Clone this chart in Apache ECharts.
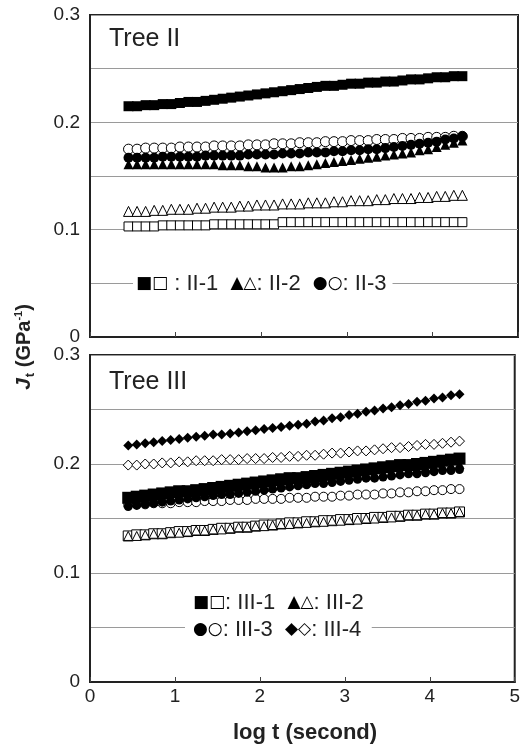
<!DOCTYPE html>
<html>
<head>
<meta charset="utf-8">
<script src="https://cdn.jsdelivr.net/npm/echarts@6/dist/echarts.min.js"></script>
<style>html,body{margin:0;padding:0;background:#fff}#c{width:523px;height:748px}</style>
</head>
<body>
<div id="c"></div>
<script>
// log t (second) sampling points
const logT = [0.45,0.55,0.65,0.75,0.85,0.95,1.05,1.15,1.25,1.35,1.45,1.55,1.65,1.75,1.85,1.95,2.05,2.15,2.25,2.35,2.45,2.55,2.65,2.75,2.85,2.95,3.05,3.15,3.25,3.35,3.45,3.55,3.65,3.75,3.85,3.95,4.05,4.15,4.25,4.35];
const xTicks = [0,1,2,3,4,5];
const yTicks = [0,0.1,0.2,0.3];

// Tree II
const II1_filled = [.215,.215,.216,.216,.217,.217,.218,.219,.219,.220,.221,.222,.223,.224,.225,.226,.227,.228,.229,.230,.231,.232,.233,.234,.234,.235,.236,.236,.237,.237,.238,.238,.239,.240,.240,.241,.242,.242,.243,.243];
const II1_open   = [.103,.103,.103,.103,.104,.104,.104,.104,.104,.104,.105,.105,.105,.105,.105,.105,.105,.105,.107,.107,.107,.107,.107,.107,.107,.107,.107,.107,.107,.107,.107,.107,.107,.107,.107,.107,.107,.107,.107,.107];
const II2_filled = [.161,.161,.161,.161,.161,.161,.161,.161,.161,.161,.161,.160,.160,.160,.159,.159,.158,.158,.158,.159,.159,.160,.161,.162,.163,.164,.165,.166,.167,.168,.169,.170,.171,.172,.174,.175,.177,.179,.181,.183];
const II2_open   = [.117,.117,.117,.118,.118,.119,.119,.119,.120,.120,.121,.121,.121,.122,.122,.123,.123,.123,.124,.124,.124,.125,.125,.125,.126,.126,.127,.127,.127,.128,.128,.129,.129,.129,.130,.130,.131,.131,.132,.132];
const II3_filled = [.167,.167,.167,.167,.168,.168,.168,.168,.168,.169,.169,.169,.169,.169,.170,.170,.170,.170,.171,.171,.171,.172,.172,.172,.173,.173,.174,.174,.175,.175,.176,.177,.178,.179,.180,.181,.182,.184,.185,.187];
const II3_open   = [.175,.175,.176,.176,.176,.176,.177,.177,.177,.177,.178,.178,.178,.178,.179,.179,.179,.180,.180,.180,.181,.181,.181,.182,.182,.182,.183,.183,.183,.184,.184,.184,.185,.185,.185,.186,.186,.186,.187,.187];

// Tree III
const III1_filled = [.169,.170,.171,.172,.173,.174,.175,.175,.176,.177,.178,.179,.180,.181,.182,.183,.184,.185,.186,.187,.187,.188,.189,.190,.191,.192,.193,.194,.195,.196,.197,.198,.199,.199,.200,.201,.202,.203,.204,.205];
const III1_open   = [.134,.135,.135,.136,.136,.137,.138,.138,.139,.139,.140,.141,.141,.142,.142,.143,.144,.144,.145,.146,.146,.147,.147,.148,.148,.149,.149,.150,.150,.151,.151,.152,.152,.153,.153,.154,.154,.155,.155,.156];
const III2_filled = [.165,.166,.167,.168,.169,.170,.171,.171,.172,.173,.174,.175,.176,.177,.177,.178,.179,.180,.181,.182,.183,.184,.185,.186,.187,.188,.189,.190,.190,.191,.192,.193,.194,.195,.196,.197,.198,.198,.199,.200];
const III2_open   = [.134,.134,.135,.136,.136,.137,.137,.138,.139,.139,.140,.140,.141,.142,.142,.143,.143,.144,.145,.145,.146,.146,.147,.147,.148,.148,.149,.149,.150,.150,.151,.151,.152,.153,.153,.154,.154,.155,.155,.156];
const III3_filled = [.161,.162,.163,.164,.165,.166,.167,.168,.169,.170,.171,.172,.172,.173,.174,.175,.176,.177,.178,.179,.180,.181,.182,.182,.183,.184,.185,.186,.187,.187,.188,.189,.190,.191,.191,.192,.193,.194,.194,.195];
const III3_open   = [.163,.163,.163,.164,.164,.164,.165,.165,.165,.166,.166,.166,.167,.167,.167,.168,.168,.168,.168,.169,.169,.169,.170,.170,.170,.171,.171,.172,.172,.172,.173,.173,.174,.174,.175,.175,.176,.176,.177,.177];
const III4_filled = [.217,.218,.219,.220,.221,.222,.223,.224,.225,.226,.227,.227,.228,.229,.230,.231,.232,.233,.234,.235,.236,.237,.239,.240,.242,.243,.245,.246,.248,.249,.251,.252,.254,.255,.257,.258,.260,.261,.263,.264];
const III4_open   = [.199,.199,.200,.200,.201,.201,.202,.202,.203,.203,.203,.204,.204,.204,.205,.205,.205,.206,.206,.207,.207,.208,.208,.209,.210,.210,.211,.212,.212,.213,.214,.215,.215,.216,.217,.218,.218,.219,.220,.221];

const FONT = '"Liberation Sans", Arial, sans-serif';
const pair = ys => logT.map((x, i) => [x, ys[i]]);
const ink = '#000';

function sc(name, ys, sym, size, filled, gi) {
  return {
    name, type: 'scatter', xAxisIndex: gi, yAxisIndex: gi,
    data: pair(ys), symbol: sym, symbolSize: size,
    itemStyle: filled ? {color: ink, opacity: 1}
                      : {color: '#fff', borderColor: ink, borderWidth: 1, opacity: 1},
    emphasis: {disabled: true}, z: filled ? 3 : 2
  };
}

function xAx(gi, showLabel) {
  return {
    type: 'value', gridIndex: gi, min: xTicks[0], max: xTicks[xTicks.length - 1], interval: 1,
    axisLine: {show: true, lineStyle: {color: '#222', width: 2}},
    axisTick: {show: true, inside: true, length: 5, lineStyle: {color: '#444'}},
    axisLabel: {show: showLabel, color: '#222', fontSize: 19, fontFamily: FONT, margin: 5},
    splitLine: {show: false}
  };
}
function yAx(gi) {
  return {
    type: 'value', gridIndex: gi, min: yTicks[0], max: yTicks[yTicks.length - 1], interval: 0.05,
    axisLine: {show: true, lineStyle: {color: '#222', width: 2}},
    axisTick: {show: false},
    axisLabel: {color: '#222', fontSize: 19, fontFamily: FONT, margin: 10,
      formatter: v => {
        const k = Math.round(v * 100);
        if (k % 10 !== 0) return '';
        return k === 0 ? '0' : (k / 100).toFixed(1);
      }},
    splitLine: {show: true, lineStyle: {color: '#9a9a9a', width: 1}}
  };
}

const symRich = {font: '17px "DejaVu Sans"', fill: ink, lineHeight: 27};

const chart = echarts.init(document.getElementById('c'), null, {renderer: 'canvas'});
chart.setOption({
  animation: false,
  backgroundColor: '#fff',
  grid: [
    {left: 90, right: 5, top: 15, height: 322, show: true, borderColor: '#222', borderWidth: 2, backgroundColor: 'transparent'},
    {left: 90, right: 5, top: 355, height: 327, show: true, borderColor: '#222', borderWidth: 2, backgroundColor: 'transparent'}
  ],
  xAxis: [xAx(0, false), xAx(1, true)],
  yAxis: [yAx(0), yAx(1)],
  series: [
    sc('II-1 open', II1_open, 'rect', 9, false, 0),
    sc('II-2 open', II2_open, 'triangle', 10, false, 0),
    sc('II-3 open', II3_open, 'circle', 10, false, 0),
    sc('II-1 filled', II1_filled, 'rect', 10, true, 0),
    sc('II-2 filled', II2_filled, 'triangle', 10, true, 0),
    sc('II-3 filled', II3_filled, 'circle', 10, true, 0),

    sc('III-1 open', III1_open, 'rect', 10, false, 1),
    sc('III-2 open', III2_open, 'triangle', 9, false, 1),
    sc('III-4 open', III4_open, 'diamond', 10, false, 1),
    sc('III-3 open', III3_open, 'circle', 9, false, 1),
    sc('III-1 filled', III1_filled, 'rect', 12, true, 1),
    sc('III-3 filled', III3_filled, 'circle', 9, true, 1),
    sc('III-2 filled', III2_filled, 'triangle', 10, true, 1),
    sc('III-4 filled', III4_filled, 'diamond', 10, true, 1)
  ],
  graphic: [
    {type: 'text', x: 109, y: 27, z: 100, style: {text: 'Tree II', font: '25px ' + FONT, fill: '#222'}},
    {type: 'text', x: 109, y: 370, z: 100, style: {text: 'Tree III', font: '25px ' + FONT, fill: '#222'}},
    {type: 'text', x: 133, y: 284, z: 100, style: {
      text: '{s|■□} : II-1  {s|▲△}: II-2  {s|●○}: II-3',
      font: '22px ' + FONT, fill: '#222', verticalAlign: 'middle', lineHeight: 27,
      backgroundColor: '#fff', padding: [3, 6, 3, 3], rich: {s: symRich}}},
    {type: 'text', x: 185, y: 616, z: 100, style: {
      text: '{s|■□}: III-1  {s|▲△}: III-2\n{s|●○}: III-3  {s|◆◇}: III-4',
      font: '22px ' + FONT, fill: '#222', verticalAlign: 'middle', lineHeight: 27,
      backgroundColor: '#fff', padding: [1, 8, 1, 8], rich: {s: symRich}}},
    {type: 'text', x: 305, y: 733, z: 100, style: {
      text: 'log t (second)', font: 'bold 22px ' + FONT, fill: '#222', align: 'center', verticalAlign: 'middle'}},
    {type: 'text', x: 24, y: 347, z: 100, rotation: Math.PI / 2, style: {
      text: '{j|J}{sub|t}{b| (GPa}{sup|-1}{b|)}',
      align: 'center', verticalAlign: 'middle', fill: '#222',
      rich: {
        j: {font: 'italic bold 21px ' + FONT, fill: '#222', lineHeight: 26, verticalAlign: 'middle'},
        b: {font: 'bold 20px ' + FONT, fill: '#222', lineHeight: 26, verticalAlign: 'middle'},
        sub: {font: 'bold 13px ' + FONT, fill: '#222', lineHeight: 26, verticalAlign: 'bottom', padding: [0, 0, 0, 1]},
        sup: {font: 'bold 11px ' + FONT, fill: '#222', lineHeight: 26, verticalAlign: 'top', padding: [2, 0, 0, 0]}
      }}}
  ]
});
</script>
</body>
</html>
